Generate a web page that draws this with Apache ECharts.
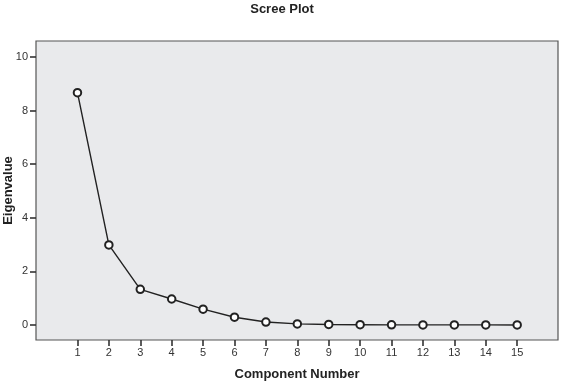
<!DOCTYPE html>
<html><head><meta charset="utf-8">
<script src="https://cdn.jsdelivr.net/npm/echarts@6/dist/echarts.min.js"></script>
<style>html,body{margin:0;padding:0;background:#fff}#c{width:561px;height:382px}</style>
</head><body><div id="c"></div>
<script>
const components = [1,2,3,4,5,6,7,8,9,10,11,12,13,14,15];
const eigenvalues = [8.67,2.99,1.33,0.97,0.59,0.29,0.11,0.04,0.02,0.01,0.005,0.004,0.003,0.003,0.002];
const yTicks = [0,2,4,6,8,10];
const xTicks = components;

const chart = echarts.init(document.getElementById('c'), null, {renderer:'canvas'});
const font = 'Liberation Sans, Arial, sans-serif';
chart.setOption({
  animation:false,
  backgroundColor:'#fff',
  title:{text:'Scree Plot', left:277, top:-2, textAlign:'center',
    textStyle:{fontFamily:font, fontSize:13, fontWeight:'bold', color:'#222'}},
  grid:{left:36, right:3, top:41, bottom:42, containLabel:false, outerBoundsMode:'none',
    show:true, backgroundColor:'#e9eaec', borderColor:'#555', borderWidth:1.2},
  xAxis:{type:'value', min:-0.32, max:16.3,
    name:'Component Number', nameLocation:'middle', nameGap:28, nameMoveOverlap:false,
    nameTextStyle:{fontFamily:font, fontSize:13, fontWeight:'bold', color:'#222'},
    axisLine:{show:false, onZero:false},
    axisTick:{show:true, length:6, lineStyle:{color:'#333', width:1.6}, customValues:xTicks},
    axisLabel:{fontFamily:font, fontSize:11, color:'#333', margin:7, customValues:xTicks},
    splitLine:{show:false}},
  yAxis:{type:'value', min:-0.56, max:10.6,
    name:'Eigenvalue', nameLocation:'middle', nameGap:21, nameRotate:90, nameMoveOverlap:false,
    nameTextStyle:{fontFamily:font, fontSize:13, fontWeight:'bold', color:'#222'},
    axisLine:{show:false, onZero:false},
    axisTick:{show:true, length:6, lineStyle:{color:'#333', width:1.6}, customValues:yTicks},
    axisLabel:{fontFamily:font, fontSize:11, color:'#333', margin:8, customValues:yTicks},
    splitLine:{show:false}},
  series:[{type:'line', data:components.map((c,i)=>[c, eigenvalues[i]]),
    symbol:'emptyCircle', symbolSize:7.5, color:'#222',
    lineStyle:{color:'#222', width:1.4},
    itemStyle:{color:'#222', borderColor:'#222', borderWidth:1}}]
});
</script></body></html>
